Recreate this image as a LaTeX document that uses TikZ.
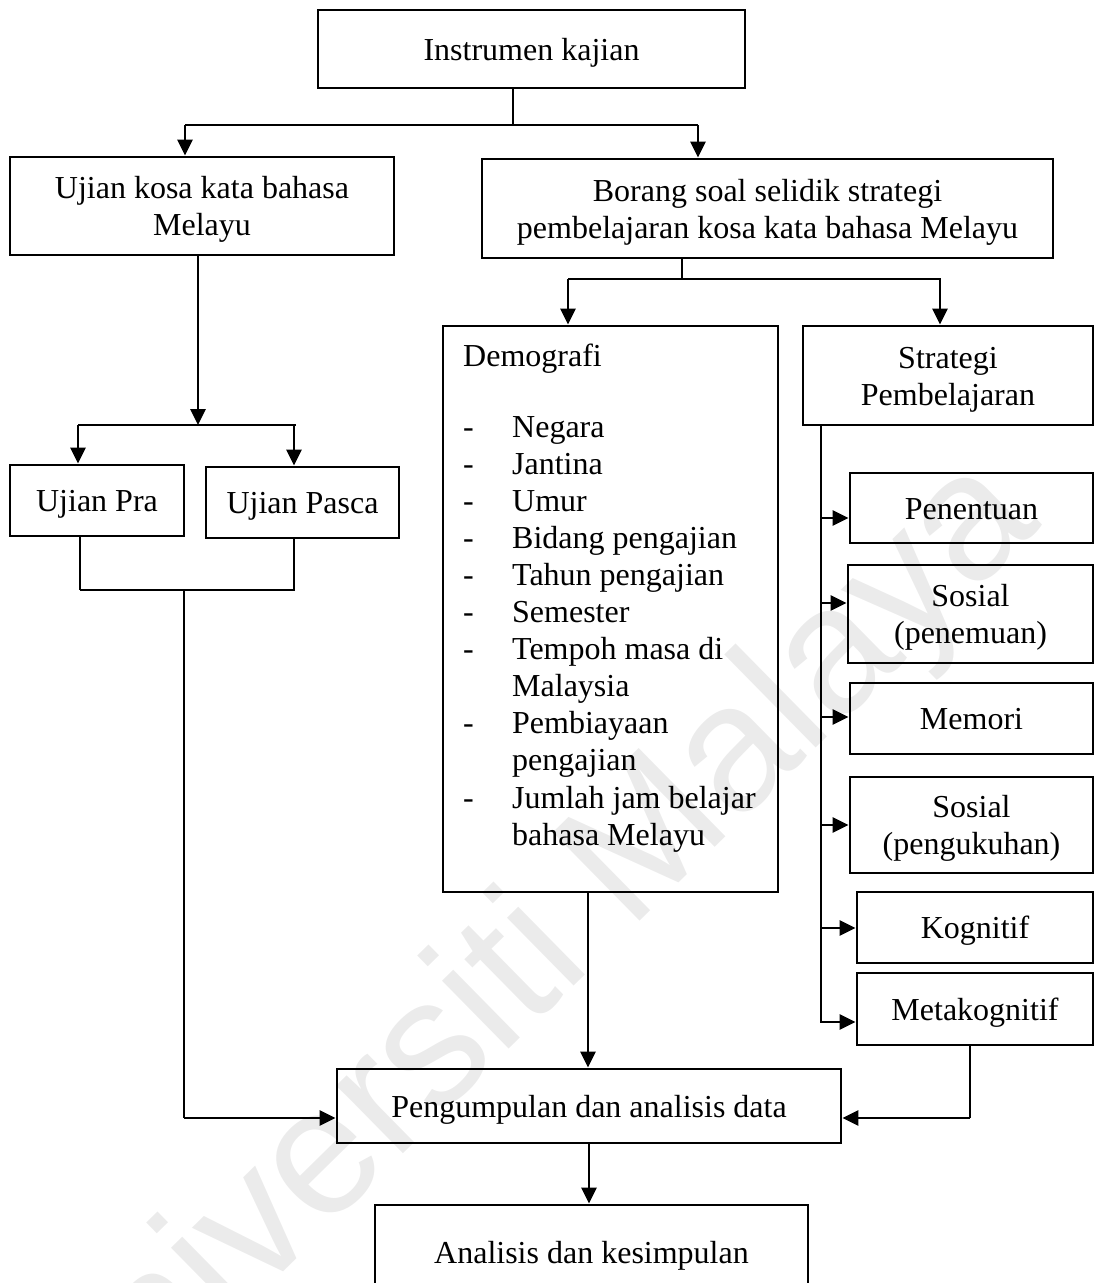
\documentclass[tikz,border=0pt]{standalone}
\usepackage{fontspec}
\setmainfont{Liberation Serif}
\newfontfamily\wmfont{Liberation Sans}
\usetikzlibrary{arrows.meta,calc}

\begin{document}
\begin{tikzpicture}[x=1pt,y=-1pt,
  box/.style={draw, line width=2.8pt, rectangle, inner sep=0pt, align=center,
    font=\fontsize{32}{37}\selectfont},
  one/.style={text height=29pt, text depth=6.4pt},
  two/.style={text height=66pt, text depth=6.4pt},
  link/.style={line width=2.7pt},
  arr/.style={line width=2.7pt, -{Triangle[length=16pt,width=15pt]}},
  txt/.style={inner sep=0pt, font=\fontsize{32}{37.1}\selectfont}
]
\useasboundingbox (0,0) rectangle (1095,1283);
\clip (0,0) rectangle (1095,1283);

% faint watermark behind everything
\node[rotate=44.5, text=black!8, font=\wmfont\fontsize{180}{180}\selectfont, inner sep=0pt]
  (wm) at (522,972) {Universiti Malaya};

% boxes
\node[box, one, minimum width=427pt, minimum height=78pt] (inst) at (531.5,49) {Instrumen kajian};
\node[box, two, minimum width=384pt, minimum height=98pt] (ujk) at (202,206) {Ujian kosa kata bahasa\\Melayu};
\node[box, two, minimum width=571pt, minimum height=99pt] (borang) at (767.5,208.5) {Borang soal selidik strategi\\pembelajaran kosa kata bahasa Melayu};
\node[box, one, minimum width=174pt, minimum height=71pt] (pra) at (97,500.5) {Ujian Pra};
\node[box, one, minimum width=193pt, minimum height=71pt] (pasca) at (302.5,502.5) {Ujian Pasca};
\node[box, minimum width=335pt, minimum height=566pt] (demo) at (610.5,609) {};
\node[box, two, minimum width=290pt, minimum height=99pt] (strat) at (948,375.5) {Strategi\\Pembelajaran};
\node[box, one, minimum width=243pt, minimum height=70pt] (pen) at (971.5,508) {Penentuan};
\node[box, two, minimum width=245pt, minimum height=98pt] (sos1) at (970.5,614) {Sosial\\(penemuan)};
\node[box, one, minimum width=243pt, minimum height=71pt] (mem) at (971.5,718.5) {Memori};
\node[box, two, minimum width=243pt, minimum height=96pt] (sos2) at (971.5,825) {Sosial\\(pengukuhan)};
\node[box, one, minimum width=236pt, minimum height=71pt] (kog) at (975,927.5) {Kognitif};
\node[box, one, minimum width=236pt, minimum height=72pt] (meta) at (975,1009) {Metakognitif};
\node[box, one, minimum width=504pt, minimum height=74pt] (peng) at (589,1106) {Pengumpulan dan analisis data};
\node[box, one, minimum width=433pt, minimum height=95pt] (anal) at (591.5,1252.5) {Analisis dan kesimpulan};

% demographic list inside its box
\node[txt, anchor=base west] (demohead) at (463,366) {Demografi};
\node[txt, anchor=base west] (demolist) at (463,437) {%
  \begin{tabular}[t]{@{}p{49pt}@{}l@{}}
  - & Negara\\
  - & Jantina\\
  - & Umur\\
  - & Bidang pengajian\\
  - & Tahun pengajian\\
  - & Semester\\
  - & Tempoh masa di\\
    & Malaysia\\
  - & Pembiayaan\\
    & pengajian\\
  - & Jumlah jam belajar\\
    & bahasa Melayu
  \end{tabular}};

% junction points
\coordinate (j0) at (513,125);
\coordinate (jL) at (185,125);
\coordinate (jR) at (698,125);
\coordinate (u0) at (198,425);
\coordinate (uL) at (78,425);
\coordinate (uR) at (296,425);
\coordinate (pL) at (80,590);
\coordinate (pR) at (294,590);
\coordinate (pM) at (184,590);
\coordinate (pD) at (184,1118);
\coordinate (b0) at (682,279);
\coordinate (bL) at (568,279);
\coordinate (bR) at (941,279);
\coordinate (sT) at (821,425);
\coordinate (sB) at (821,1023);
\coordinate (mD) at (970,1118);

% top level split
\draw[link] (inst.south -| j0) -- (j0);
\draw[link] (jL) -- (jR);
\draw[arr] (jL) -- (ujk.north -| jL);
\draw[arr] (jR) -- (borang.north -| jR);

% vocabulary test branch
\draw[arr] (ujk.south -| u0) -- (u0);
\draw[link] (uL) -- (uR);
\draw[arr] (uL) -- (pra.north -| uL);
\draw[arr] ($(uR)+(-2,0)$) -- (pasca.north -| pR);
\draw[link] (pra.south -| pL) -- (pL);
\draw[link] (pasca.south -| pR) -- (pR);
\draw[link] (pL) -- ($(pR)+(1,0)$);
\draw[link] (pM) -- (pD);
\draw[arr] (pD) -- (peng.west |- pD);

% questionnaire branch
\draw[link] (borang.south -| b0) -- (b0);
\draw[link] (bL) -- (bR);
\draw[arr] (bL) -- (demo.north -| bL);
\draw[arr] ($(bR)+(-1,0)$) -- ($(strat.north -| bR)+(-1,0)$);

% learning strategy spine
\draw[link] (strat.south -| sT) -- (sB);
\draw[arr] (sT |- 0,518) -- (pen.west |- 0,518);
\draw[arr] (sT |- 0,603) -- (sos1.west |- 0,603);
\draw[arr] (sT |- 0,717) -- (mem.west |- 0,717);
\draw[arr] (sT |- 0,825) -- (sos2.west |- 0,825);
\draw[arr] (sT |- 0,928) -- (kog.west |- 0,928);
\draw[arr] (sT |- 0,1022) -- (meta.west |- 0,1022);

% gathering and conclusion
\draw[arr] (demo.south -| 588,0) -- (peng.north -| 588,0);
\draw[link] (meta.south -| mD) -- (mD);
\draw[arr] (mD) -- (peng.east |- mD);
\draw[arr] (peng.south -| 589,0) -- (anal.north -| 589,0);
\end{tikzpicture}
\end{document}
